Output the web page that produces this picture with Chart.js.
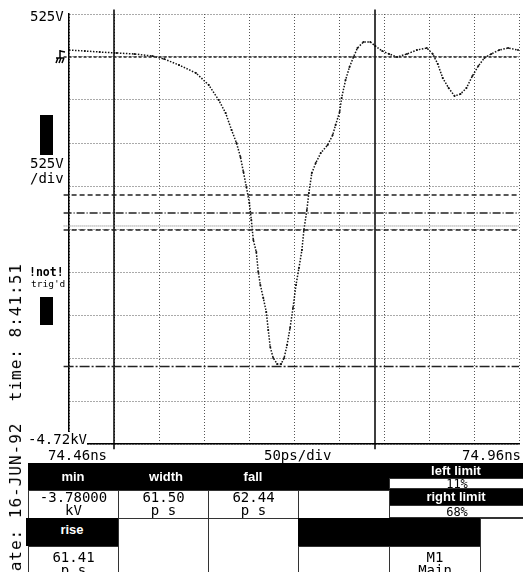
<!DOCTYPE html>
<html>
<head>
<meta charset="utf-8">
<script src="https://cdn.jsdelivr.net/npm/chart.js@4.4.1/dist/chart.umd.min.js"></script>
<style>
  body { margin: 0; background: #fff; }
  #wrap { position: relative; width: 523px; height: 572px; overflow: hidden; background: #fff; }
  #scope { position: absolute; left: 0; top: 0; }
  .t { position: absolute; font-family: "DejaVu Sans Mono", monospace; font-size: 14px; line-height: 16px; color: #000; white-space: pre; }
  .box { position: absolute; background: #000; }
  .hd { position: absolute; background: #000; color: #fff; font: bold 13px "Liberation Sans", Arial, sans-serif; text-align: center; }
  .cell { position: absolute; box-sizing: border-box; border: 1px solid #333; background: #fff;
          font-family: "DejaVu Sans Mono", monospace; font-size: 14px; line-height: 13px; text-align: center; white-space: pre; }
  #stamp { position: absolute; left: 7px; top: 263px; writing-mode: vertical-rl; transform: rotate(180deg);
           font-family: "DejaVu Sans Mono", monospace; font-size: 16px; letter-spacing: 1px; white-space: pre; line-height: 18px; }
</style>
</head>
<body>
<div id="wrap">
  <canvas id="scope" width="523" height="572"></canvas>

  <div class="t" id="yTop" style="left:30px; top:8px;"></div>
  <div class="box" style="left:40px; top:115px; width:13px; height:40px;"></div>
  <div class="t" style="left:30px; top:155px;">525V</div>
  <div class="t" style="left:30px; top:170px;">/div</div>
  <div class="t" style="left:29px; top:264px; font-weight:bold; font-size:11.5px;">!not!</div>
  <div class="t" style="left:31px; top:276px; font-size:9.5px;">trig'd</div>
  <div class="box" style="left:40px; top:297px; width:13px; height:28px;"></div>
  <div class="t" id="yBottom" style="left:28px; top:432px; background:#fff; line-height:14px;"></div>
  <div class="t" id="xLeft" style="left:48px; top:447px;"></div>
  <div class="t" id="xMid" style="left:264px; top:447px;"></div>
  <div class="t" id="xRight" style="right:2px; top:447px;"></div>
  <div id="stamp">date: 16-JUN-92  time: 8:41:51</div>

  <!-- measurement table -->
  <div class="hd" style="left:28px; top:463px; width:361px; height:27px;"></div>
  <div class="hd" style="left:28px; top:469px; width:90px;">min</div>
  <div class="hd" style="left:118px; top:469px; width:96px;">width</div>
  <div class="hd" style="left:208px; top:469px; width:90px;">fall</div>
  <div class="hd" style="left:389px; top:463px; width:134px; height:15px; line-height:15px;">left limit</div>
  <div class="cell" style="left:389px; top:478px; width:136px; height:11px; line-height:11px; font-size:12px;">11%</div>
  <div class="hd" style="left:389px; top:489px; width:134px; height:16px; line-height:16px;">right limit</div>
  <div class="cell" style="left:389px; top:505px; width:136px; height:13px; line-height:13px; font-size:12px;">68%</div>

  <div class="cell" style="left:28px; top:490px; width:91px; height:29px;">-3.78000
kV</div>
  <div class="cell" style="left:118px; top:490px; width:91px; height:29px;">61.50
p s</div>
  <div class="cell" style="left:208px; top:490px; width:91px; height:29px;">62.44
p s</div>
  <div class="cell" style="left:298px; top:490px; width:92px; height:29px;"></div>

  <div class="cell" style="left:118px; top:518px; width:91px; height:56px;"></div>
  <div class="cell" style="left:208px; top:518px; width:91px; height:56px;"></div>
  <div class="cell" style="left:480px; top:518px; width:45px; height:56px;"></div>
  <div class="hd" style="left:26px; top:518px; width:92px; height:28px; line-height:24px;">rise</div>
  <div class="hd" style="left:298px; top:518px; width:182px; height:28px;"></div>
  <div class="cell" style="left:28px; top:546px; width:91px; height:28px; padding-top:4px;">61.41
p s</div>
  <div class="cell" style="left:298px; top:546px; width:92px; height:28px;"></div>
  <div class="cell" style="left:389px; top:546px; width:92px; height:28px; padding-top:4px;">M1
Main</div>
</div>

<script>
// axis texts
const yTickLabels = ['525V', '-4.72kV'];
const xTickLabels = ['74.46ns', '50ps/div', '74.96ns'];

// trace: time in ps after 74.46 ns, volts
const traceTimes = [0, 17.6, 34.1, 52.9, 72.7, 92.5, 105.7, 122.2, 141, 155.3,
  166.3, 174, 180.6, 186.1, 190.5, 193.8, 197.1, 200.4, 202.6, 204.8,
  208.1, 210.3, 212.6, 215.9, 219.2, 221.4, 223.6, 226.9, 231.3, 235.7,
  239, 242.3, 245.6, 248.9, 252.2, 255.5, 258.8, 261, 264.3, 266.5,
  269.8, 274.2, 279.7, 287.4, 293, 296.2, 300.7, 302.9, 307.3, 311.7,
  316.1, 320.5, 327.1, 334.8, 340.3, 348, 355.7, 364.5, 375.5, 386.6,
  397.6, 404.2, 409.7, 415.2, 421.8, 428.4, 435, 441.6, 448.2, 454.8,
  461.5, 469.2, 478, 487.9, 498.9];
const traceVolts = [85, 73, 61, 49, 37, 12, -24, -98, -195, -342,
  -525, -684, -891, -1050, -1221, -1404, -1587, -1783, -1990, -2234,
  -2381, -2625, -2784, -2943, -3113, -3333, -3541, -3675, -3748, -3748,
  -3675, -3516, -3309, -3064, -2784, -2576, -2356, -2112, -1868, -1660,
  -1416, -1294, -1172, -1074, -952, -830, -672, -501, -281, -122,
  0, 110, 183, 183, 134, 73, 37, 0, 37, 85,
  110, 37, -85, -256, -378, -476, -452, -378, -232, -110,
  -12, 37, 85, 110, 85];

// horizontal reference levels (V) and time markers (ps)
const refLevels = [0, -1685, -1905, -2063, -2112, -3780];
const markerTimes = [50, 340];

const refStyles = [
  { dash: [3, 2], width: 1.3, color: '#222' },
  { dash: [5, 3], width: 1.5, color: '#222' },
  { dash: [8, 2, 1, 2], width: 1.5, color: '#222' },
  { dash: [1, 1], width: 1, color: '#777' },
  { dash: [5, 3], width: 1.5, color: '#222' },
  { dash: [10, 2, 2, 2], width: 1.5, color: '#222' }
];

document.getElementById('yTop').textContent = yTickLabels[0];
document.getElementById('yBottom').textContent = yTickLabels[1];
document.getElementById('xLeft').textContent = xTickLabels[0];
document.getElementById('xMid').textContent = xTickLabels[1];
document.getElementById('xRight').textContent = xTickLabels[2];

const datasets = [];
refLevels.forEach((v, i) => {
  datasets.push({
    data: [{ x: -6, y: v }, { x: 500, y: v }],
    borderColor: refStyles[i].color,
    borderWidth: refStyles[i].width,
    borderDash: refStyles[i].dash,
    pointRadius: 0,
    showLine: true,
    clip: false
  });
});
markerTimes.forEach((t) => {
  datasets.push({
    data: [{ x: t, y: 580 }, { x: t, y: -4790 }],
    borderColor: '#000',
    borderWidth: 1.5,
    pointRadius: 0,
    showLine: true,
    clip: false
  });
});
datasets.push({
  data: traceTimes.map((t, i) => ({ x: t, y: traceVolts[i] })),
  borderColor: '#111',
  backgroundColor: '#111',
  borderWidth: 1.5,
  borderDash: [1.5, 1.5],
  pointRadius: 1,
  pointBorderWidth: 0,
  showLine: true
});

// little ground symbol left of the 0 V level
const groundMark = {
  id: 'groundMark',
  afterDatasetsDraw(chart) {
    const c = chart.ctx;
    const x = chart.chartArea.left - 9;
    const y = chart.scales.y.getPixelForValue(0);
    c.save();
    c.strokeStyle = '#000';
    c.lineWidth = 1.5;
    c.beginPath();
    c.moveTo(x, y - 7); c.lineTo(x, y + 1);
    c.moveTo(x, y - 6); c.lineTo(x + 5, y - 5);
    c.moveTo(x - 4, y + 1); c.lineTo(x + 4, y + 1);
    c.moveTo(x - 4, y + 6); c.lineTo(x - 2, y + 1);
    c.moveTo(x - 1, y + 6); c.lineTo(x + 1, y + 1);
    c.moveTo(x + 2, y + 6); c.lineTo(x + 4, y + 1);
    c.stroke();
    c.restore();
  }
};

const gridOpts = { color: '#555', lineWidth: 1, drawTicks: false };
const borderOpts = { display: true, color: '#000', width: 1.5, dash: [1, 2] };

new Chart(document.getElementById('scope').getContext('2d'), {
  type: 'scatter',
  data: { datasets: datasets },
  options: {
    responsive: false,
    animation: false,
    layout: { padding: { left: 69, top: 14, right: 0, bottom: 128 } },
    scales: {
      x: {
        type: 'linear', min: 0, max: 500,
        ticks: { display: false, stepSize: 50 },
        grid: gridOpts,
        border: borderOpts
      },
      y: {
        type: 'linear', min: -4725, max: 525,
        ticks: { display: false, stepSize: 525 },
        grid: gridOpts,
        border: borderOpts
      }
    },
    plugins: { legend: { display: false }, tooltip: { enabled: false } }
  },
  plugins: [groundMark]
});
</script>
</body>
</html>
